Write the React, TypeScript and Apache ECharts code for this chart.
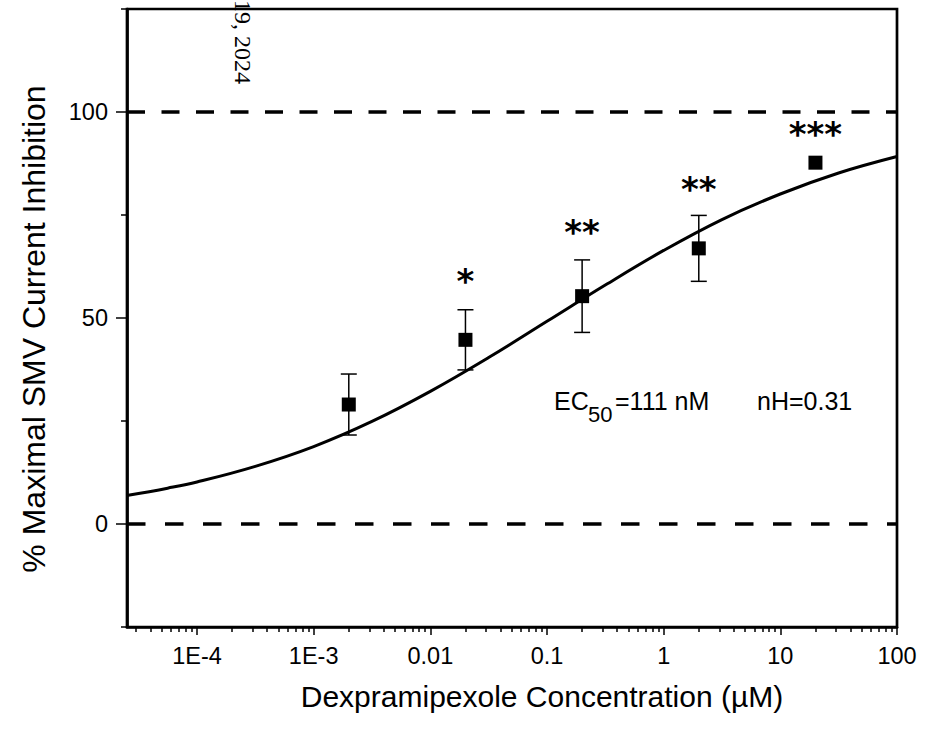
import React, { useEffect, useRef } from "react";
import * as echarts from "echarts";

// ---- data ----
const concentrations = [0.002, 0.02, 0.2, 2, 20]; // µM
const inhibition = [29.0, 44.7, 55.3, 66.9, 87.7]; // %
const errors = [7.4, 7.3, 8.8, 8.0, 0];
const sigLabels = ["", "*", "**", "**", "***"];
const sigHeights = [0, 59.9, 71.9, 82.3, 95.6];

// fitted curve, values
const fitConc = [2.5e-5, 5.6e-5, 1e-4, 3.16e-4, 1e-3, 3.16e-3, 0.01, 0.0316, 0.1, 0.316, 1, 3.16, 10, 31.6, 100];
const fitValues = [6.9, 8.7, 10.2, 14.0, 18.8, 24.9, 32.2, 40.4, 49.2, 58.0, 66.4, 73.9, 80.1, 85.2, 89.2];

const xDecades = [-4, -3, -2, -1, 0, 1, 2];
const xTickLabels = ["1E-4", "1E-3", "0.01", "0.1", "1", "10", "100"];
const yMajorTicks = [0, 50, 100];
const yMinorTicks = [-25, 25, 75, 125];
const refLines = [0, 100];

const X_MIN = -4.6;
const X_MAX = 2;

const FONT = "'Liberation Sans', Arial, sans-serif";

export default function App() {
  const ref = useRef<HTMLDivElement>(null);

  useEffect(() => {
    if (!ref.current) return;
    const chart = echarts.init(ref.current, undefined, { renderer: "svg" });

    const minorX: number[] = [];
    for (let d = -5; d <= 1; d++) {
      for (let k = 2; k <= 9; k++) {
        const v = Math.log10(k) + d;
        if (v > X_MIN && v < X_MAX) minorX.push(v);
      }
    }

    const points = concentrations.map((c, i) => [Math.log10(c), inhibition[i], errors[i]]);
    const fit = fitConc.map((c, i) => [Math.log10(c), fitValues[i]]);
    const sig = concentrations
      .map((c, i) => ({ value: [Math.log10(c), sigHeights[i]], label: sigLabels[i] }))
      .filter((d) => d.label !== "");

    const axisLine = { show: true, onZero: false, lineStyle: { color: "#000", width: 2.7 } };
    const hiddenLine = { show: false, onZero: false };

    chart.setOption({
      animation: false,
      backgroundColor: "#fff",
      grid: {
        left: 127,
        right: 32,
        top: 9,
        bottom: 107,
        show: true,
        borderColor: "#000",
        borderWidth: 2.7,
        containLabel: false,
      },
      xAxis: [
        {
          type: "value",
          position: "bottom",
          min: X_MIN,
          max: X_MAX,
          axisLine,
          splitLine: { show: false },
          axisTick: {
            show: true,
            customValues: xDecades,
            length: 8,
            lineStyle: { color: "#000", width: 1.5 },
          },
          axisLabel: {
            customValues: xDecades,
            margin: 17,
            fontSize: 23.5,
            fontFamily: FONT,
            color: "#000",
            formatter: (v: number) => {
              const idx = xDecades.indexOf(Math.round(v));
              return idx >= 0 ? xTickLabels[idx] : "";
            },
          },
        },
        {
          type: "value",
          position: "bottom",
          min: X_MIN,
          max: X_MAX,
          axisLine: hiddenLine,
          splitLine: { show: false },
          axisTick: {
            show: true,
            customValues: minorX,
            length: 5,
            lineStyle: { color: "#000", width: 1.5 },
          },
          axisLabel: { show: false },
        },
      ],
      yAxis: [
        {
          type: "value",
          position: "left",
          min: -25,
          max: 125,
          interval: 25,
          axisLine,
          splitLine: { show: false },
          axisTick: {
            show: true,
            customValues: yMajorTicks,
            length: 11,
            lineStyle: { color: "#000", width: 1.5 },
          },
          axisLabel: {
            customValues: yMajorTicks,
            margin: 19,
            fontSize: 23.5,
            fontFamily: FONT,
            color: "#000",
            padding: [0, 0, 5, 0],
          },
        },
        {
          type: "value",
          position: "left",
          min: -25,
          max: 125,
          interval: 25,
          axisLine: hiddenLine,
          splitLine: { show: false },
          axisTick: {
            show: true,
            customValues: yMinorTicks,
            length: 6,
            lineStyle: { color: "#000", width: 1.5 },
          },
          axisLabel: { show: false },
        },
      ],
      series: [
        {
          type: "line",
          name: "fit",
          data: fit,
          smooth: 0.4,
          showSymbol: false,
          symbol: "none",
          lineStyle: { color: "#000", width: 3 },
          z: 2,
          markLine: {
            silent: true,
            symbol: ["none", "none"],
            label: { show: false },
            data: refLines.map((v, i) => ({
              yAxis: v,
              lineStyle: {
                color: "#000",
                width: 3.5,
                opacity: 1,
                type: i === 0 ? [18.5, 19.5] : [18, 16.5],
              },
            })),
          },
        },
        {
          type: "custom",
          name: "errors",
          data: points,
          z: 3,
          renderItem: (params: any, api: any) => {
            const x = api.value(0);
            const y = api.value(1);
            const e = api.value(2);
            if (!e) return null;
            const top = api.coord([x, y + e]);
            const bot = api.coord([x, y - e]);
            const hw = 8;
            const style = { stroke: "#000", lineWidth: 1.5 };
            return {
              type: "group",
              children: [
                { type: "line", shape: { x1: top[0], y1: top[1], x2: bot[0], y2: bot[1] }, style },
                { type: "line", shape: { x1: top[0] - hw, y1: top[1], x2: top[0] + hw, y2: top[1] }, style },
                { type: "line", shape: { x1: bot[0] - hw, y1: bot[1], x2: bot[0] + hw, y2: bot[1] }, style },
              ],
            };
          },
        },
        {
          type: "scatter",
          name: "data",
          data: points.map((p) => [p[0], p[1]]),
          symbol: "rect",
          symbolSize: 14,
          itemStyle: { color: "#000", opacity: 1 },
          z: 4,
        },
        {
          type: "scatter",
          name: "significance",
          data: sig.map((d) => ({ value: d.value, name: d.label })),
          symbolSize: 0,
          itemStyle: { color: "#000", opacity: 1 },
          z: 5,
          label: {
            show: true,
            position: "inside",
            formatter: (p: any) => p.name,
            fontFamily: "'DejaVu Sans', sans-serif",
            fontWeight: "bold",
            fontSize: 34,
            color: "#000",
            opacity: 1,
            offset: [0, 4],
          },
        },
      ],
      graphic: [
        {
          type: "text",
          x: 33.5,
          y: 329,
          rotation: Math.PI / 2,
          style: {
            text: "% Maximal SMV Current Inhibition",
            fontFamily: FONT,
            fontSize: 32,
            fill: "#000",
            textAlign: "center",
            textVerticalAlign: "middle",
          },
        },
        {
          type: "text",
          x: 542,
          y: 696,
          style: {
            text: "Dexpramipexole Concentration (µM)",
            fontFamily: FONT,
            fontSize: 30,
            fill: "#000",
            textAlign: "center",
            textVerticalAlign: "middle",
          },
        },
        {
          type: "text",
          x: 554,
          y: 401,
          style: {
            text: "EC",
            fontFamily: FONT,
            fontSize: 25,
            fill: "#000",
            textAlign: "left",
            textVerticalAlign: "middle",
          },
        },
        {
          type: "text",
          x: 588,
          y: 414.5,
          style: {
            text: "50",
            fontFamily: FONT,
            fontSize: 22,
            fill: "#000",
            textAlign: "left",
            textVerticalAlign: "middle",
          },
        },
        {
          type: "text",
          x: 615,
          y: 401,
          style: {
            text: "=111 nM",
            fontFamily: FONT,
            fontSize: 25,
            fill: "#000",
            textAlign: "left",
            textVerticalAlign: "middle",
          },
        },
        {
          type: "text",
          x: 757,
          y: 401,
          style: {
            text: "nH=0.31",
            fontFamily: FONT,
            fontSize: 25,
            fill: "#000",
            textAlign: "left",
            textVerticalAlign: "middle",
          },
        },
        {
          type: "text",
          x: 243,
          y: 42,
          rotation: -Math.PI / 2,
          style: {
            text: "19, 2024",
            fontFamily: "'Liberation Serif', 'Times New Roman', serif",
            fontSize: 24,
            fill: "#000",
            textAlign: "center",
            textVerticalAlign: "middle",
          },
        },
      ],
    });

    return () => chart.dispose();
  }, []);

  return (
    <div
      ref={ref}
      style={{ position: "absolute", left: 0, top: 0, width: 929, height: 734, background: "#fff" }}
    />
  );
}
